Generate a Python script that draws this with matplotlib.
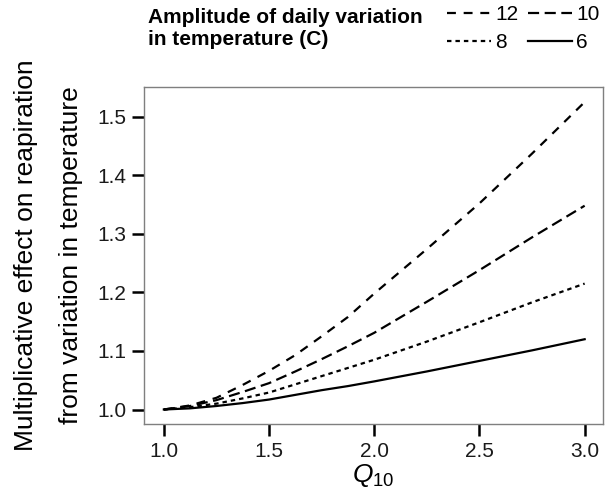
import matplotlib
matplotlib.use("Agg")
import matplotlib.pyplot as plt

plt.rcParams["font.family"] = ["Liberation Sans", "DejaVu Sans"]
plt.rcParams["mathtext.fontset"] = "custom"
plt.rcParams["mathtext.rm"] = "Liberation Sans"
plt.rcParams["mathtext.it"] = "Liberation Sans:italic"

# Data
q10 = [1.0, 1.125, 1.25, 1.375, 1.5, 1.625, 1.75, 1.875, 2.0, 2.25, 2.5, 2.75, 3.0]
amp_12 = [1.0, 1.007, 1.020, 1.042, 1.066, 1.093, 1.125, 1.158, 1.198, 1.274, 1.352, 1.437, 1.525]
amp_10 = [1.0, 1.006, 1.016, 1.030, 1.045, 1.065, 1.086, 1.108, 1.131, 1.184, 1.238, 1.294, 1.348]
amp_8 = [1.0, 1.004, 1.010, 1.019, 1.029, 1.043, 1.057, 1.071, 1.085, 1.116, 1.149, 1.183, 1.215]
amp_6 = [1.0, 1.002, 1.006, 1.011, 1.017, 1.025, 1.033, 1.040, 1.048, 1.065, 1.083, 1.101, 1.120]

x_ticks = [1.0, 1.5, 2.0, 2.5, 3.0]
y_ticks = [1.0, 1.1, 1.2, 1.3, 1.4, 1.5]

fig = plt.figure(figsize=(6.07, 4.99), dpi=100)
ax = fig.add_axes([0.237, 0.150, 0.756, 0.676])

lw = 1.6
l12, = ax.plot(q10, amp_12, color="black", lw=lw, linestyle=(0, (4, 3.5)), label="12")
l10, = ax.plot(q10, amp_10, color="black", lw=lw, linestyle=(0, (5, 2.5)), label="10")
l8, = ax.plot(q10, amp_8, color="black", lw=lw, linestyle=(0, (2, 1.8)), label="8")
l6, = ax.plot(q10, amp_6, color="black", lw=lw, linestyle="-", label="6")

ax.set_xlim(0.905, 3.086)
ax.set_ylim(0.975, 1.551)
ax.set_xticks(x_ticks)
ax.set_xticklabels([f"{v:.1f}" for v in x_ticks])
ax.set_yticks(y_ticks)
ax.set_yticklabels([f"{v:.1f}" for v in y_ticks])
ax.tick_params(axis="both", direction="out", length=8.5, width=1.8, color="black",
               labelsize=15, labelcolor="#1a1a1a", pad=4)
for s in ax.spines.values():
    s.set_color("#7f7f7f")
    s.set_linewidth(1.0)

ax.set_xlabel(r"$Q_{\mathrm{10}}$", fontsize=19, labelpad=1)
ax.set_ylabel("Multiplicative effect on reapiration\nfrom variation in temperature",
              fontsize=19, linespacing=2.15, labelpad=10)

fig.text(148 / 607, 1 - 8 / 499,
         "Amplitude of daily variation\nin temperature (C)",
         fontsize=15, fontweight="bold", va="top", ha="left", linespacing=1.2)

fig.legend(handles=[l12, l8, l10, l6], labels=["12", "8", "10", "6"], ncol=2,
           loc="upper left", bbox_to_anchor=(447 / 607, 1 - 5 / 499),
           frameon=False, fontsize=15, handlelength=2.1, handletextpad=0.2,
           columnspacing=0.5, labelspacing=0.45, borderpad=0, borderaxespad=0)

fig.savefig("out.png", dpi=100)
